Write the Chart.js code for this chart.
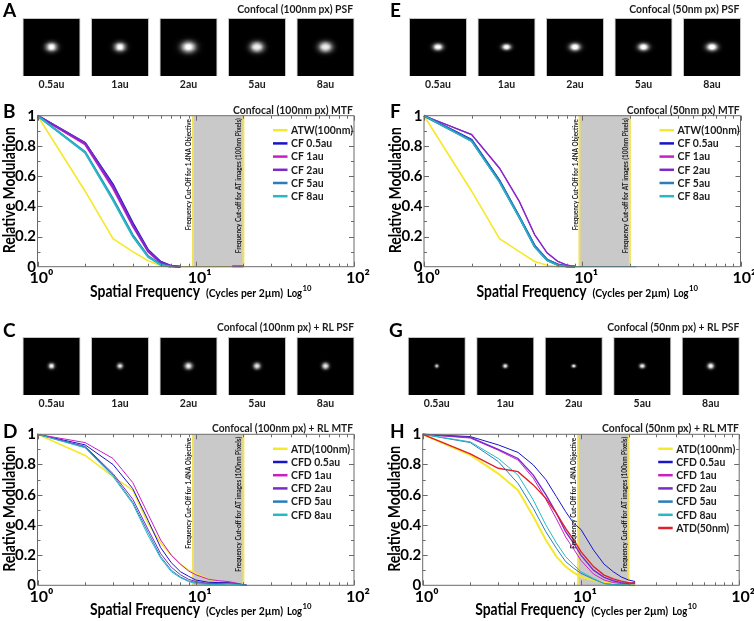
<!DOCTYPE html>
<html>
<head>
<meta charset="utf-8">
<title>Confocal PSF and MTF</title>
<script src="https://cdn.jsdelivr.net/npm/chart.js@4"></script>
<style>
  html, body { margin: 0; padding: 0; background: #fff; }
  body { position: relative; width: 754px; height: 621px; overflow: hidden; }
  canvas { position: absolute; }
</style>
</head>
<body>
<script>
// tick labels and axis values
const psfLabels = ["0.5au", "1au", "2au", "5au", "8au"];
const psfTile = [1, 1, 1, 1, 1];
const xTicks = [1, 10, 100];
const xTickLabels = ["10⁰", "10¹", "10²"];
const xMinorTicks = [2, 3, 4, 5, 6, 7, 8, 9, 20, 30, 40, 50, 60, 70, 80, 90];
const yMinorTicks = [0.1, 0.3, 0.5, 0.7, 0.9];
const cutOffs = [9.6, 20];

// measured spot widths of the PSF images
const spotA = [16.5, 16.5, 21, 19, 19];
const spotE = [14.7, 13.3, 16, 15.7, 16.3];
const spotC = [8.7, 8, 10.7, 10, 10];
const spotG = [5.3, 6.7, 5.7, 7.7, 9.3];

// MTF curves, a curve may stop early where the picture shows nothing more of it
const freqConfocal = [1, 2, 3, 4, 5, 6, 7, 8, 9, 10, 14, 17, 20, 22];
const freqRL = [1, 2, 3, 4, 5, 6, 7, 8, 9, 10, 12, 14, 16, 18, 20, 22];
const freqD = [1, 2, 3, 4, 5, 6, 7, 8, 9, 10, 12, 14, 16, 18, 20, 21];

const namesCF = ["ATW(100nm)", "CF 0.5au", "CF 1au", "CF 2au", "CF 5au", "CF 8au"];
const namesCFD = ["ATD(100nm)", "CFD 0.5au", "CFD 1au", "CFD 2au", "CFD 5au", "CFD 8au"];
const namesH = ["ATD(100nm)", "CFD 0.5au", "CFD 1au", "CFD 2au", "CFD 5au", "CFD 8au", "ATD(50nm)"];

const bAtw = [1, 0.5, 0.185, 0.1, 0.04, 0.006, 0, 0, 0, 0, 0, 0, 0];
const bCf05 = [1, 0.82, 0.545, 0.29, 0.11, 0.033, 0.005, 0];
const bCf1 = [1, 0.81, 0.52, 0.27, 0.1, 0.025, 0.003, 0, null, null, null, 0.003, 0.003];
const bCf2 = [1, 0.82, 0.535, 0.28, 0.105, 0.03, 0.004, 0];
const bCf5 = [1, 0.76, 0.45, 0.21, 0.07, 0.015, 0];
const bCf8 = [1, 0.755, 0.44, 0.2, 0.065, 0.012, 0];

const fAtw = [1, 0.5, 0.185, 0.1, 0.035, 0.01, 0, 0, 0, 0];
const fCf05 = [1, 0.84, 0.57, 0.33, 0.14, 0.045, 0.015, 0.003, 0];
const fCf1 = [1, 0.875, 0.65, 0.43, 0.21, 0.09, 0.035, 0.01, 0.002];
const fCf2 = [1, 0.875, 0.655, 0.435, 0.215, 0.092, 0.036, 0.011, 0.002];
const fCf5 = [1, 0.835, 0.565, 0.33, 0.135, 0.045, 0.012, 0.002, 0];
const fCf8 = [1, 0.83, 0.56, 0.325, 0.13, 0.04, 0.01, 0.001, 0, 0, 0, 0, 0, 0];

const dAtd = [1, 0.86, 0.72, 0.63, 0.41, 0.28, 0.2, 0.14, 0.1, 0.08, 0.04, 0.025, 0.015, 0.01, 0.004, 0];
const dCfd05 = [1, 0.93, 0.8, 0.64, 0.43, 0.25, 0.15, 0.09, 0.06, 0.035, 0.02, 0.018, 0.018, 0.012, 0.004, 0];
const dCfd1 = [1, 0.945, 0.84, 0.68, 0.47, 0.3, 0.2, 0.14, 0.095, 0.07, 0.04, 0.03, 0.025, 0.015, 0.004, 0];
const dCfd2 = [1, 0.92, 0.74, 0.57, 0.37, 0.21, 0.12, 0.07, 0.04, 0.025, 0.012, 0.012, 0.015, 0.01, 0.003, 0];
const dCfd5 = [1, 0.915, 0.73, 0.55, 0.35, 0.19, 0.1, 0.055, 0.03, 0.018, 0.01, 0.008, 0.012, 0.008, 0.002, 0];
const dCfd8 = [1, 0.91, 0.72, 0.54, 0.33, 0.18, 0.09, 0.05, 0.025, 0.012, 0.006, 0.005, 0.008, 0.005, 0.001, 0];

const hAtd = [1, 0.863, 0.74, 0.63, 0.455, 0.3, 0.19, 0.124, 0.084, 0.057, 0.035, 0.018, 0.01, 0.005, 0.002, 0];
const hCfd05 = [1, 0.985, 0.93, 0.88, 0.797, 0.7, 0.587, 0.488, 0.41, 0.37, 0.234, 0.14, 0.09, 0.055, 0.035, 0.025];
const hCfd1 = [1, 0.975, 0.895, 0.83, 0.71, 0.57, 0.44, 0.32, 0.24, 0.165, 0.075, 0.035, 0.018, 0.012, 0.01, 0.02];
const hCfd2 = [1, 0.98, 0.9, 0.84, 0.73, 0.6, 0.477, 0.355, 0.278, 0.2, 0.1, 0.053, 0.03, 0.018, 0.012, 0.015];
const hCfd5 = [1, 0.945, 0.82, 0.675, 0.51, 0.355, 0.245, 0.157, 0.113, 0.08, 0.04, 0.012, 0.005, 0.003, 0.002, 0];
const hCfd8 = [1, 0.95, 0.84, 0.73, 0.565, 0.4, 0.28, 0.19, 0.135, 0.09, 0.045, 0.012, 0.004, 0.002, 0.001, 0];
const hAtd50 = [1, 0.87, 0.775, 0.753, 0.665, 0.576, 0.477, 0.377, 0.3, 0.223, 0.124, 0.068, 0.042, 0.028, 0.018, 0.012];

const curveColors = ["#f6e82a", "#1814c8", "#c81ec8", "#7a2bc8", "#2b7cba", "#28b8c4", "#e0202a"];
const fontName = "Lato, 'Open Sans', sans-serif";
const inkColor = "#1c1c1c";
const plotWidth = 316.5;
const plotHeight = 151;

// draws a blurred PSF spot, cell sets how coarse the pixels of the image look
function makeSpot(width, aspect, cell) {
  const cols = Math.ceil(width * 1.5 / cell);
  const rows = Math.ceil(width * aspect * 1.5 / cell);
  const small = document.createElement("canvas");
  small.width = cols;
  small.height = rows;
  const sctx = small.getContext("2d");
  const img = sctx.createImageData(cols, rows);
  const sx = width / 4.5 / cell;
  const sy = sx * aspect;
  for (let r = 0; r < rows; r++) {
    for (let c = 0; c < cols; c++) {
      const dx = (c + 0.5 - cols / 2) / sx;
      const dy = (r + 0.5 - rows / 2) / sy;
      const v = Math.min(255, 330 * Math.exp(-(dx * dx + dy * dy) / 2));
      const i = (r * cols + c) * 4;
      img.data[i] = img.data[i + 1] = img.data[i + 2] = v;
      img.data[i + 3] = 255;
    }
  }
  sctx.putImageData(img, 0, 0);
  const out = document.createElement("canvas");
  out.width = Math.round(cols * cell);
  out.height = Math.round(rows * cell);
  const octx = out.getContext("2d");
  octx.imageSmoothingEnabled = true;
  octx.imageSmoothingQuality = "high";
  octx.drawImage(small, 0, 0, out.width, out.height);
  return out;
}

function addCanvas(left, top, width, height) {
  const c = document.createElement("canvas");
  c.width = width;
  c.height = height;
  c.style.left = left + "px";
  c.style.top = top + "px";
  c.style.width = width + "px";
  c.style.height = height + "px";
  document.body.appendChild(c);
  return c;
}

// Lato runs wider than the original font, so squeeze a string to a measured width
function fitText(ctx, text, x, y, width) {
  const k = width / ctx.measureText(text).width;
  ctx.save();
  ctx.translate(x, y);
  ctx.scale(k, 1);
  ctx.fillText(text, 0, 0);
  ctx.restore();
}

// panel letter and right aligned heading
function drawHeading(chart, opt) {
  const ctx = chart.ctx;
  ctx.save();
  ctx.fillStyle = "#000";
  ctx.textBaseline = "middle";
  ctx.textAlign = "left";
  ctx.font = "bold 19px " + fontName;
  ctx.fillText(opt.letter, opt.letterX, opt.letterY);
  ctx.fillStyle = inkColor;
  ctx.textAlign = "right";
  ctx.font = "bold 12px " + fontName;
  fitText(ctx, opt.title, opt.titleRight, opt.titleY, opt.titleWidth);
  ctx.restore();
}

function psfChart(opt) {
  const canvasH = 93;
  const c = addCanvas(opt.originX, opt.originY, 377, canvasH);
  const spots = opt.widths.map(w => makeSpot(w, opt.aspect, opt.cell));
  new Chart(c, {
    type: "bar",
    data: {
      labels: psfLabels,
      datasets: [
        {
          type: "line",
          data: opt.widths.map(() => 0.5),
          showLine: false,
          pointStyle: spots,
          pointRadius: 5,
          order: 0
        },
        {
          data: psfTile,
          backgroundColor: "#000",
          borderColor: "#c4c4c4",
          borderWidth: 1,
          barPercentage: 0.847,
          categoryPercentage: 1,
          order: 1
        }
      ]
    },
    options: {
      responsive: false,
      animation: false,
      events: [],
      layout: { padding: { left: opt.left, right: 377 - opt.left - 342.5, top: opt.top, bottom: 0 } },
      plugins: { legend: { display: false }, tooltip: { enabled: false } },
      scales: {
        x: {
          grid: { display: false, drawTicks: false },
          border: { display: false },
          ticks: { color: inkColor, font: { family: fontName, size: 10.5, weight: "bold" }, padding: 2, maxRotation: 0 },
          afterFit(s) { s.height = canvasH - opt.top - 58; s.paddingLeft = 0; s.paddingRight = 0; }
        },
        y: { display: false, min: 0, max: 1 }
      }
    },
    plugins: [{
      id: "psfHeading",
      afterDraw(chart) {
        drawHeading(chart, opt);
      }
    }]
  });
}

function mtfChart(opt) {
  const canvasH = 207;
  const c = addCanvas(opt.originX, opt.originY, 377, canvasH);
  const curves = opt.series.map((vals, i) => ({
    label: opt.names[i],
    data: vals.map((v, j) => ({ x: opt.freq[j], y: v })),
    borderColor: curveColors[i],
    borderWidth: opt.lineWidths[i],
    pointRadius: 0,
    tension: 0,
    clip: false,
    order: -i
  }));
  const region = {
    data: [{ x: cutOffs[0], y: 1 }, { x: cutOffs[1], y: 1 }],
    borderWidth: 0,
    pointRadius: 0,
    fill: "origin",
    backgroundColor: "#c9c9c9",
    order: 20
  };
  const cutLines = cutOffs.map(v => ({
    data: [{ x: v, y: 0 }, { x: v, y: 1 }],
    borderColor: "#f1e25c",
    borderWidth: 2,
    pointRadius: 0,
    clip: false,
    order: 10
  }));

  new Chart(c, {
    type: "line",
    data: { datasets: [region].concat(cutLines, curves) },
    options: {
      responsive: false,
      animation: false,
      events: [],
      layout: { padding: { left: 0, right: 377 - opt.left - plotWidth, top: opt.top, bottom: 0 } },
      plugins: { legend: { display: false }, tooltip: { enabled: false } },
      scales: {
        x: {
          type: "logarithmic",
          min: 1,
          max: 100,
          grid: { display: false, drawTicks: false },
          border: { display: false },
          afterBuildTicks(s) { s.ticks = xTicks.map(v => ({ value: v, major: true })); },
          ticks: {
            autoSkip: false,
            maxRotation: 0,
            padding: 2,
            labelOffset: 4,
            color: "#000",
            font: { family: fontName, size: 16, weight: "bold" },
            callback: v => xTickLabels[xTicks.indexOf(v)]
          },
          afterFit(s) { s.height = canvasH - opt.top - plotHeight; s.paddingLeft = 0; s.paddingRight = 0; }
        },
        y: {
          min: 0,
          max: 1,
          grid: { display: false, drawTicks: false },
          border: { display: false },
          ticks: {
            stepSize: 0.2,
            padding: 1.5,
            color: "#000",
            font: { family: fontName, size: 15, weight: "bold" },
            callback: v => String(+v.toFixed(1))
          },
          afterFit(s) { s.width = opt.left; s.paddingTop = 0; s.paddingBottom = 0; }
        }
      }
    },
    plugins: [{
      id: "mtfExtras",
      afterDatasetsDraw(chart) {
        const ctx = chart.ctx;
        const area = chart.chartArea;
        const sx = chart.scales.x;
        const sy = chart.scales.y;

        // frame and inward ticks
        ctx.save();
        ctx.strokeStyle = "#6a6a6a";
        ctx.lineWidth = 1;
        ctx.beginPath();
        ctx.rect(area.left, area.top, area.right - area.left, area.bottom - area.top);
        const xTick = (v, len) => {
          const p = Math.round(sx.getPixelForValue(v)) + 0.5;
          ctx.moveTo(p, area.bottom); ctx.lineTo(p, area.bottom - len);
          ctx.moveTo(p, area.top); ctx.lineTo(p, area.top + len);
        };
        const yTick = (v, len) => {
          const p = Math.round(sy.getPixelForValue(v)) + 0.5;
          ctx.moveTo(area.left, p); ctx.lineTo(area.left + len, p);
          ctx.moveTo(area.right, p); ctx.lineTo(area.right - len, p);
        };
        xTicks.forEach(v => xTick(v, 5));
        xMinorTicks.forEach(v => xTick(v, 3));
        [0.2, 0.4, 0.6, 0.8].forEach(v => yTick(v, 5));
        yMinorTicks.forEach(v => yTick(v, 3));
        ctx.stroke();
        ctx.restore();

        // cut-off captions, rotated
        const caption = (text, v, top, width) => {
          ctx.save();
          ctx.fillStyle = "#1a1a1a";
          ctx.font = "bold 8px " + fontName;
          ctx.textBaseline = "middle";
          ctx.textAlign = "right";
          ctx.translate(sx.getPixelForValue(v) - 4.5, area.top + top);
          ctx.rotate(-Math.PI / 2);
          fitText(ctx, text, 0, 0, width);
          ctx.restore();
        };
        caption("Frequency Cut-Off for 1.4NA Objective", cutOffs[0], 3.5, 111);
        caption("Frequency Cut-off for AT images (100nm Pixels)", cutOffs[1], 2.5, 135);
      },
      afterDraw(chart) {
        const ctx = chart.ctx;
        const area = chart.chartArea;
        drawHeading(chart, opt);

        // legend
        ctx.save();
        ctx.textBaseline = "middle";
        ctx.textAlign = "left";
        ctx.font = "bold 12px " + fontName;
        curves.forEach((d, i) => {
          const y = area.top + 14.5 + i * 13.2;
          ctx.strokeStyle = d.borderColor;
          ctx.lineWidth = 2.5;
          ctx.beginPath();
          ctx.moveTo(area.right - 81, y);
          ctx.lineTo(area.right - 66.5, y);
          ctx.stroke();
          ctx.fillStyle = inkColor;
          fitText(ctx, d.label, area.right - 63, y, ctx.measureText(d.label).width * 0.87);
        });
        ctx.restore();

        // y axis title
        ctx.save();
        ctx.fillStyle = "#000";
        ctx.textAlign = "center";
        ctx.textBaseline = "middle";
        ctx.font = "bold 17px " + fontName;
        ctx.translate(area.left - 28, (area.top + area.bottom) / 2 - 1);
        ctx.rotate(-Math.PI / 2);
        fitText(ctx, "Relative Modulation", 0, 0, 126);
        ctx.restore();

        // x axis title, mixed sizes
        ctx.save();
        ctx.fillStyle = "#000";
        ctx.textAlign = "left";
        ctx.textBaseline = "alphabetic";
        const base = area.bottom + 30;
        const x0 = area.left + 52.5;
        ctx.font = "bold 17px " + fontName;
        fitText(ctx, "Spatial Frequency", x0, base, 110);
        ctx.font = "bold 11px " + fontName;
        fitText(ctx, "(Cycles per 2µm)", x0 + 116, base, 77);
        fitText(ctx, "Log", x0 + 197, base, 15);
        ctx.font = "bold 7px " + fontName;
        fitText(ctx, "10", x0 + 212.5, base - 6, 9);
        ctx.restore();
      }
    }]
  });
}

psfChart({ originX: 0, originY: 0, left: 17.25, top: 18, widths: spotA, aspect: 0.75, cell: 3.3,
  letter: "A", title: "Confocal (100nm px) PSF", titleWidth: 115.7, titleRight: 353, titleY: 9, letterX: 3, letterY: 11 });
psfChart({ originX: 377, originY: 0, left: 26.75, top: 18, widths: spotE, aspect: 0.68, cell: 1.6,
  letter: "E", title: "Confocal (50nm px) PSF", titleWidth: 110, titleRight: 362.3, titleY: 9, letterX: 13, letterY: 11 });
psfChart({ originX: 0, originY: 318, left: 17.25, top: 19, widths: spotC, aspect: 0.9, cell: 2.2,
  letter: "C", title: "Confocal (100nm px) + RL PSF", titleWidth: 137, titleRight: 354, titleY: 9, letterX: 3, letterY: 13 });
psfChart({ originX: 377, originY: 318, left: 25.5, top: 19, widths: spotG, aspect: 0.85, cell: 1.4,
  letter: "G", title: "Confocal (50nm px) + RL PSF", titleWidth: 132, titleRight: 362.3, titleY: 9, letterX: 12, letterY: 13 });

const thick = [1.6, 2, 2, 2, 2, 2];
const thin = [1.5, 1, 1, 1, 1, 1, 1.5];

mtfChart({ originX: 0, originY: 98, left: 37.5, top: 17.7, freq: freqConfocal,
  series: [bAtw, bCf05, bCf1, bCf2, bCf5, bCf8], names: namesCF, lineWidths: thick,
  letter: "B", title: "Confocal (100nm px) MTF", titleWidth: 120, titleRight: 353, titleY: 12, letterX: 3, letterY: 14 });
mtfChart({ originX: 377, originY: 98, left: 47, top: 17.7, freq: freqConfocal,
  series: [fAtw, fCf05, fCf1, fCf2, fCf5, fCf8], names: namesCF, lineWidths: [1.6, 2, 1.2, 1.2, 2.4, 1.2],
  letter: "F", title: "Confocal (50nm px) MTF", titleWidth: 113, titleRight: 362.7, titleY: 12, letterX: 13, letterY: 14 });
mtfChart({ originX: 0, originY: 416, left: 37.5, top: 18.3, freq: freqD,
  series: [dAtd, dCfd05, dCfd1, dCfd2, dCfd5, dCfd8], names: namesCFD, lineWidths: thin,
  letter: "D", title: "Confocal (100nm px) + RL MTF", titleWidth: 141, titleRight: 353, titleY: 12, letterX: 3, letterY: 16 });
mtfChart({ originX: 377, originY: 416, left: 45.7, top: 18.3, freq: freqRL,
  series: [hAtd, hCfd05, hCfd1, hCfd2, hCfd5, hCfd8, hAtd50], names: namesH, lineWidths: [2, 1, 1, 1.4, 1, 1, 1.4],
  letter: "H", title: "Confocal (50nm px) + RL MTF", titleWidth: 137, titleRight: 362, titleY: 12, letterX: 13, letterY: 16 });
</script>
</body>
</html>
